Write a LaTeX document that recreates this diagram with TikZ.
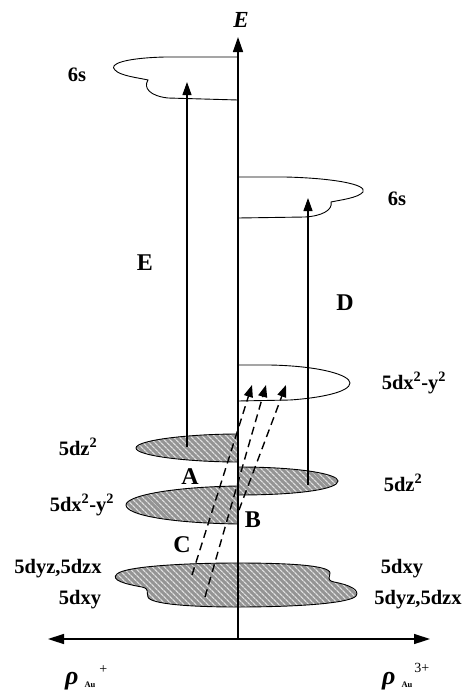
\documentclass[tikz,border=0pt]{standalone}
\usepackage{fontspec}
\setmainfont{Liberation Serif}
\usetikzlibrary{arrows.meta,patterns.meta}
\begin{document}
\begin{tikzpicture}[x=1pt,y=-1pt,
 lbl/.style={font=\fontsize{20.5}{20.5}\selectfont\bfseries, inner sep=0pt},
 big/.style={font=\fontsize{24}{24}\selectfont\bfseries, inner sep=0pt},
 orb/.style={draw=black, line width=0.9pt},
 dorb/.style={orb, preaction={fill=black!42}, pattern={Lines[angle=-45,distance=4pt,line width=1.3pt]}, pattern color=black!12},
 up/.style={line width=1.2pt, -{Triangle[length=13pt,width=9pt]}},
 dup/.style={line width=1.4pt, dash pattern=on 8pt off 5pt, -{Triangle[length=12pt,width=9pt]}},
 axisline/.style={line width=1.5pt}]
\useasboundingbox (0,0) rectangle (465,691);

% empty 6s orbitals
\draw[orb] (238,57) -- (165,57) .. controls (125,58) and (108,64) .. (115,70)
  .. controls (120,76) and (140,78) .. (148,80)
  .. controls (143,88) and (150,96) .. (168,98) -- (238,100);
\draw[orb] (238,177) -- (285,177) .. controls (330,178) and (368,184) .. (363,192)
  .. controls (358,198) and (340,200) .. (331,202)
  .. controls (333,210) and (322,216) .. (305,217) -- (238,218);
% empty 5dx2-y2 (right)
\draw[orb] (238,365) -- (270,365) .. controls (320,366) and (350,375) .. (350,383)
  .. controls (350,392) and (320,398) .. (290,400) -- (238,401);

% filled d orbitals
\draw[dorb] (238,434) .. controls (190,434) and (136,440) .. (136,448)
  .. controls (136,456) and (190,462) .. (238,462) -- cycle;
\draw[dorb] (238,467) .. controls (300,467) and (338,474) .. (338,481)
  .. controls (338,489) and (300,495) .. (238,495) -- cycle;
\draw[dorb] (238,486) .. controls (170,487) and (126,496) .. (126,505)
  .. controls (126,515) and (170,523) .. (238,524) -- cycle;
\draw[dorb] (237,563) .. controls (285,563) and (330,565) .. (330,573)
  .. controls (330,577) and (326,580) .. (334,582)
  .. controls (350,585) and (360,590) .. (356,596)
  .. controls (350,603) and (300,607) .. (237,607)
  .. controls (190,607) and (150,604) .. (148,597)
  .. controls (146,592) and (150,589) .. (142,587)
  .. controls (125,584) and (110,580) .. (117,574)
  .. controls (125,566) and (190,563) .. (237,563) -- cycle;

% coordinates
\coordinate (axB) at (238,639);
\coordinate (axT) at (238,37);
\coordinate (hL) at (48,639);
\coordinate (hR) at (430,639);
\coordinate (e0) at (187,447);
\coordinate (e1) at (187,82);
\coordinate (d0) at (308,485);
\coordinate (d1) at (308,198);
\coordinate (s1) at (192,575);
\coordinate (t1) at (252,385);
\coordinate (s2) at (205,597);
\coordinate (t2) at (266,385);
\coordinate (s3) at (239,510);
\coordinate (t3) at (286,385);

% transitions
\draw[up] (e0) -- (e1);
\draw[up] (d0) -- (d1);
\draw[dup] (s1) -- (t1);
\draw[dup] (s2) -- (t2);
\draw[dup] (s3) -- (t3);

% axes
\draw[axisline, -{Triangle[length=15pt,width=10pt]}] (axB) -- (axT);
\draw[axisline, {Triangle[length=16pt,width=10pt]}-{Triangle[length=16pt,width=10pt]}] (hL) -- (hR);

% labels
\node[font=\fontsize{23}{23}\selectfont\bfseries\itshape, inner sep=0pt] (Elab) at (241,20) {E};
\node[lbl] (s6L) at (77,75) {6s};
\node[lbl] (s6R) at (397,199) {6s};
\node[big] (Etr) at (145,263) {E};
\node[big] (Dtr) at (345,303) {D};
\node[lbl] (dxR) at (414,383) {5dx\textsuperscript{2}-y\textsuperscript{2}};
\node[lbl] (dzL) at (78,447) {5dz\textsuperscript{2}};
\node[lbl] (dzR) at (403,483) {5dz\textsuperscript{2}};
\node[big] (Alab) at (190,477) {A};
\node[lbl] (dxL) at (82,505) {5dx\textsuperscript{2}-y\textsuperscript{2}};
\node[big] (Blab) at (253,520) {B};
\node[big] (Clab) at (182,545) {C};
\node[lbl] (dyzL) at (58,569) {5dyz,5dzx};
\node[lbl] (dxyL) at (80,600) {5dxy};
\node[lbl] (dxyR) at (402,569) {5dxy};
\node[lbl] (dyzR) at (418,600) {5dyz,5dzx};
\node[inner sep=0pt, anchor=base west] (rhoL) at (65,684)
  {\fontsize{26}{26}\selectfont\bfseries\itshape ρ\hspace{6pt}\raisebox{-3pt}{\upshape\fontsize{8.5}{8.5}\selectfont Au}\hspace{4pt}\raisebox{11pt}{\upshape\mdseries\fontsize{14}{14}\selectfont +}};
\node[inner sep=0pt, anchor=base west] (rhoR) at (382,684)
  {\fontsize{26}{26}\selectfont\bfseries\itshape ρ\hspace{6pt}\raisebox{-3pt}{\upshape\fontsize{8.5}{8.5}\selectfont Au}\hspace{2pt}\raisebox{12pt}{\upshape\mdseries\fontsize{14}{14}\selectfont 3+}};
\end{tikzpicture}
\end{document}
